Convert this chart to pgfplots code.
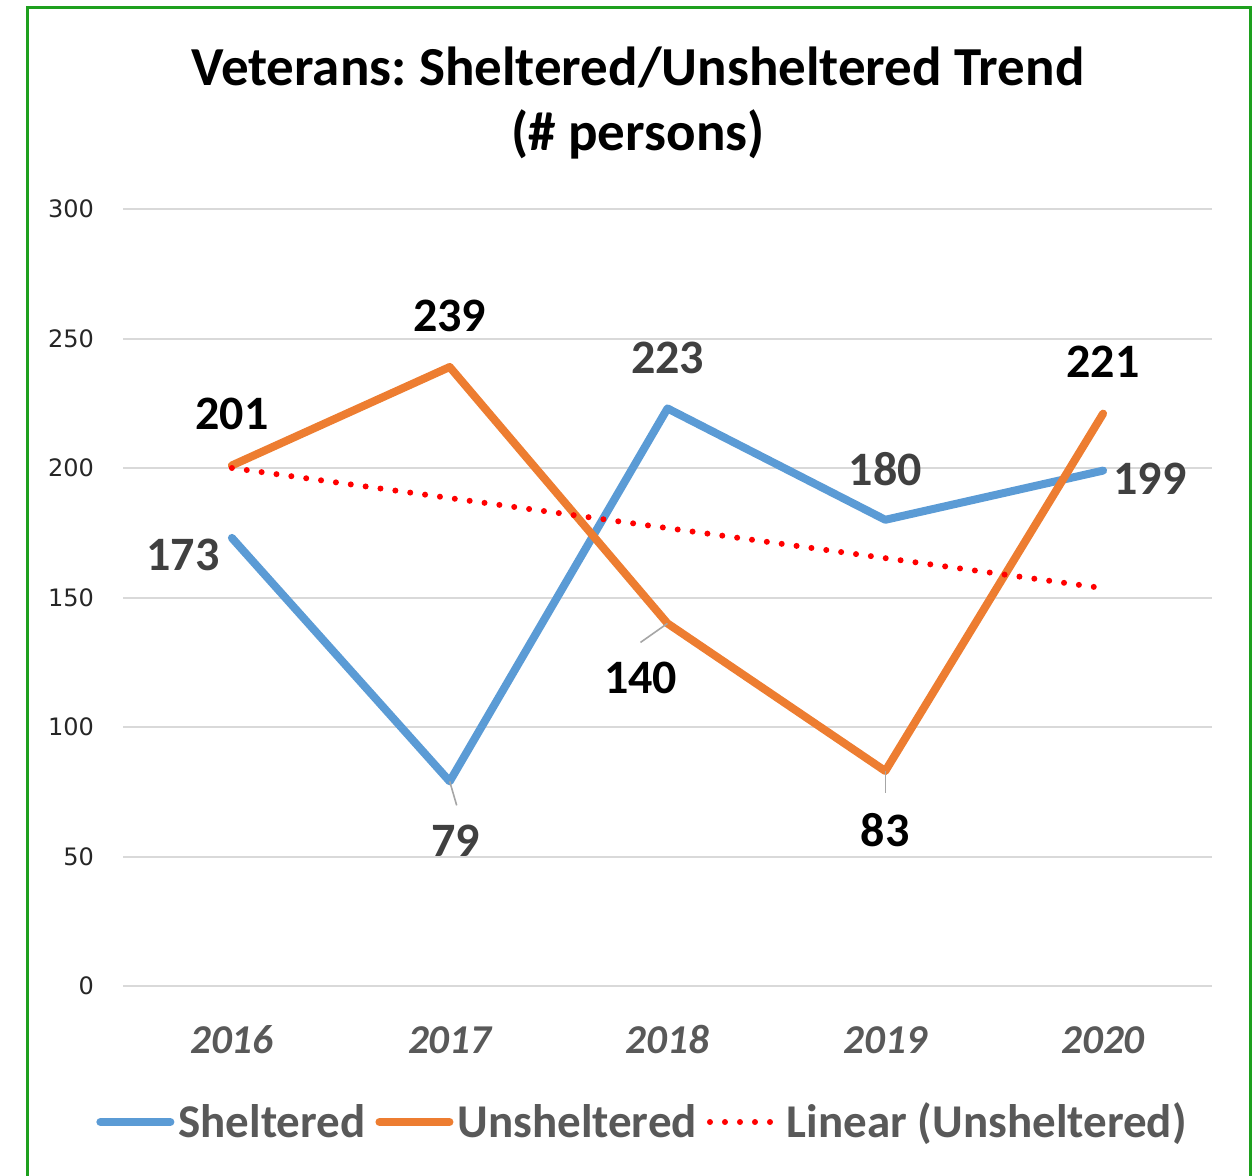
\documentclass[border=0pt]{standalone}
\usepackage{pgfplots}
\pgfplotsset{compat=1.18}
\usepackage{fontspec}
\setmainfont{Carlito}
\newfontfamily\dejavu{DejaVu Sans}
\definecolor{shel}{HTML}{5B9BD5}
\definecolor{unsh}{HTML}{ED7D31}
\definecolor{gridgray}{HTML}{D9D9D9}
\definecolor{txtgray}{HTML}{595959}
\definecolor{lblgray}{HTML}{404040}
\definecolor{frame}{RGB}{30,160,30}
\frenchspacing
\begin{document}
\begin{tikzpicture}
\useasboundingbox (0pt,0pt) rectangle (628.5pt,-588pt);
\draw[frame, line width=1.5pt] (13.5pt,-600pt) -- (13.5pt,-4pt) -- (625pt,-4pt) -- (625pt,-600pt);
\node[align=center, font=\bfseries\fontsize{27.5}{32.5}\selectfont] at (319pt,-51.5pt)
  {Veterans: Sheltered/Unsheltered Trend\\(\# persons)};
\begin{axis}[
  at={(61.5pt,-493pt)}, anchor=south west,
  scale only axis, width=544.5pt, height=388.5pt,
  xmin=2015.5, xmax=2020.5, ymin=0, ymax=300,
  xtick={2016,2017,2018,2019,2020},
  xticklabels={2016,2017,2018,2019,2020},
  ytick={0,50,...,300},
  axis line style={draw=none}, tick style={draw=none},
  ymajorgrids, grid style={gridgray, line width=1pt},
  clip=false,
  /pgf/number format/assume math mode=true,
  xticklabel style={font=\bfseries\itshape\fontsize{20.5}{24}\selectfont, text=txtgray,
    anchor=base, yshift=-33.5pt},
  yticklabel style={font=\dejavu\fontsize{12}{14}\selectfont, text=black!85, xshift=-11pt},
  legend columns=3,
  legend style={at={(0.5,0)}, anchor=center, yshift=-68pt, xshift=-12pt, draw=none,
    font=\bfseries\fontsize{23.5}{28}\selectfont, text=txtgray,
    /tikz/every even column/.append style={column sep=3pt}},
  legend image code/.code={\draw[#1] (0pt,0pt) -- (35pt,0pt);},
]
\addplot[shel, line width=4pt, line cap=round, line join=round] coordinates
  {(2016,173) (2017,79) (2018,223) (2019,180) (2020,199)};
\addlegendentry{Sheltered}
\addplot[unsh, line width=4pt, line cap=round, line join=round] coordinates
  {(2016,201) (2017,239) (2018,140) (2019,83) (2020,221)};
\addlegendentry{Unsheltered}
\addplot[red, line width=3pt, line cap=round, dash pattern=on 0pt off 7.5pt] coordinates
  {(2016,200) (2020,153.6)};
\addlegendentry{Linear (Unsheltered)}
% leader lines
\draw[gray!70, line width=0.8pt] (axis cs:2017,79) -- ++(3.5pt,-12pt);
\draw[gray!70, line width=0.8pt] (axis cs:2018,140) -- ++(-13.5pt,-9.5pt);
\draw[gray!70, line width=0.8pt] (axis cs:2019,83) -- ++(0pt,-11pt);
% data labels
\begin{scope}[every node/.style={font=\bfseries\fontsize{24}{28}\selectfont}]
\node[text=lblgray] at ([shift={(-24.5pt,-8.5pt)}]axis cs:2016,173) {173};
\node[text=lblgray] at ([shift={(3pt,-29.5pt)}]axis cs:2017,79) {79};
\node[text=lblgray] at ([shift={(0pt,25.5pt)}]axis cs:2018,223) {223};
\node[text=lblgray] at ([shift={(0pt,25.5pt)}]axis cs:2019,180) {180};
\node[text=lblgray] at ([shift={(23.5pt,-4pt)}]axis cs:2020,199) {199};
\node at ([shift={(0pt,25.5pt)}]axis cs:2016,201) {201};
\node at ([shift={(0pt,25.5pt)}]axis cs:2017,239) {239};
\node at ([shift={(-13.5pt,-27.5pt)}]axis cs:2018,140) {140};
\node at ([shift={(0pt,-29.5pt)}]axis cs:2019,83) {83};
\node at ([shift={(0pt,26pt)}]axis cs:2020,221) {221};
\end{scope}
\end{axis}
\end{tikzpicture}
\end{document}
